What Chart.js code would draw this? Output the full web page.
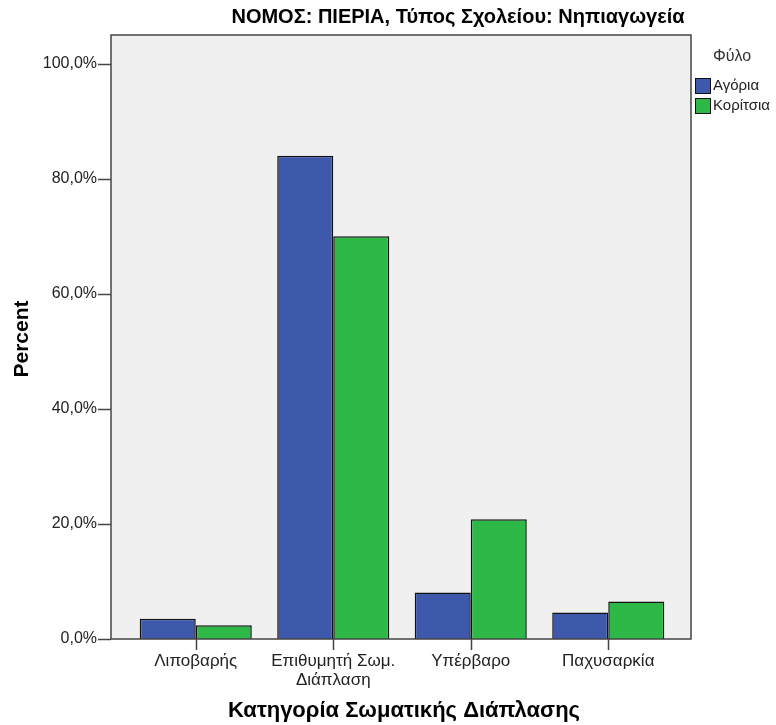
<!DOCTYPE html>
<html>
<head>
<meta charset="utf-8">
<script src="https://cdn.jsdelivr.net/npm/chart.js@4.4.1/dist/chart.umd.min.js"></script>
<style>
  html, body { margin: 0; padding: 0; background: #fff; }
  #wrap { width: 776px; height: 725px; }
</style>
</head>
<body>
<div id="wrap"><canvas id="myChart" width="776" height="725"></canvas></div>
<script>
// Κατηγορίες και ποσοστά (διαβασμένα από το γράφημα)
const categories = ['Λιποβαρής', ['Επιθυμητή Σωμ.', 'Διάπλαση'], 'Υπέρβαρο', 'Παχυσαρκία'];
const seriesNames = ['Αγόρια', 'Κορίτσια'];
const boysPct = [3.5, 84.0, 8.1, 4.6];
const girlsPct = [2.4, 70.0, 20.8, 6.5];
const seriesColors = ['#3e58ac', '#2eb848'];

const chartTitle = 'ΝΟΜΟΣ: ΠΙΕΡΙΑ, Τύπος Σχολείου: Νηπιαγωγεία';
const xTitle = 'Κατηγορία Σωματικής Διάπλασης';
const yTitle = 'Percent';
const legendTitle = 'Φύλο';

const FONT = '"Liberation Sans", Arial, sans-serif';
const FRAME = { left: 111, right: 691 };

const fmtPct = v => v.toFixed(1).replace('.', ',') + '%';

// Πλαίσιο, γραμμές υποδιαίρεσης, τίτλοι και υπόμνημα
const spssFrame = {
    id: 'spssFrame',
    beforeDatasetsDraw(chart) {
        const { ctx, chartArea } = chart;
        ctx.save();
        ctx.fillStyle = '#f0f0f0';
        ctx.fillRect(FRAME.left, chartArea.top, FRAME.right - FRAME.left, chartArea.bottom - chartArea.top);
        ctx.restore();
    },
    afterDatasetsDraw(chart) {
        const { ctx, chartArea, scales } = chart;
        ctx.save();
        ctx.strokeStyle = '#444';
        ctx.lineWidth = 1.5;
        ctx.strokeRect(FRAME.left, chartArea.top, FRAME.right - FRAME.left, chartArea.bottom - chartArea.top);

        // y ticks
        scales.y.ticks.forEach(t => {
            const y = Math.round(scales.y.getPixelForValue(t.value)) + 0.5;
            ctx.beginPath();
            ctx.moveTo(98, y);
            ctx.lineTo(FRAME.left, y);
            ctx.stroke();
        });
        // x ticks
        categories.forEach((c, i) => {
            const x = Math.round(scales.x.getPixelForValue(i)) + 0.5;
            ctx.beginPath();
            ctx.moveTo(x, chartArea.bottom);
            ctx.lineTo(x, chartArea.bottom + 11);
            ctx.stroke();
        });

        // τίτλος
        ctx.fillStyle = '#000';
        ctx.textAlign = 'center';
        ctx.textBaseline = 'middle';
        ctx.font = 'bold 20px ' + FONT;
        ctx.fillText(chartTitle, 458, 17);

        // τίτλος άξονα x
        ctx.font = 'bold 22px ' + FONT;
        ctx.fillText(xTitle, 404, 711);

        // τίτλος άξονα y
        ctx.font = 'bold 21px ' + FONT;
        ctx.save();
        ctx.translate(22, 339);
        ctx.rotate(-Math.PI / 2);
        ctx.fillText(yTitle, 0, 0);
        ctx.restore();

        // υπόμνημα
        ctx.font = '16px ' + FONT;
        ctx.fillStyle = '#333';
        ctx.fillText(legendTitle, 732, 57);
        ctx.font = '15px ' + FONT;
        ctx.textAlign = 'left';
        chart.data.datasets.forEach((ds, i) => {
            const y = 78 + i * 20;
            ctx.fillStyle = ds.backgroundColor;
            ctx.fillRect(695, y, 15, 15);
            ctx.strokeStyle = '#111';
            ctx.lineWidth = 1;
            ctx.strokeRect(695.5, y + 0.5, 15, 15);
            ctx.fillStyle = '#222';
            ctx.fillText(ds.label, 713, y + 8);
        });
        ctx.restore();
    }
};

const ctx = document.getElementById('myChart').getContext('2d');
new Chart(ctx, {
    type: 'bar',
    data: {
        labels: categories,
        datasets: [
            {
                label: seriesNames[0],
                data: boysPct,
                backgroundColor: seriesColors[0],
                borderColor: '#111',
                borderWidth: 1.5
            },
            {
                label: seriesNames[1],
                data: girlsPct,
                backgroundColor: seriesColors[1],
                borderColor: '#111',
                borderWidth: 1.5
            }
        ]
    },
    options: {
        responsive: false,
        animation: false,
        layout: { autoPadding: false, padding: { top: 35, right: 99, left: 0, bottom: 0 } },
        plugins: {
            legend: { display: false },
            title: { display: false },
            tooltip: { enabled: false }
        },
        datasets: {
            bar: { categoryPercentage: 0.815, barPercentage: 1.0 }
        },
        scales: {
            x: {
                grid: { display: false, drawTicks: false },
                border: { display: false },
                ticks: {
                    padding: 13,
                    color: '#222',
                    font: { family: FONT, size: 17, lineHeight: 1.1 },
                    maxRotation: 0,
                    autoSkip: false
                },
                afterFit(scale) {
                    scale.height = 86;
                    scale.paddingLeft = 0;
                    scale.paddingRight = 0;
                }
            },
            y: {
                min: 0,
                max: 105,
                grid: { display: false, drawTicks: false },
                border: { display: false },
                ticks: {
                    stepSize: 20,
                    includeBounds: false,
                    padding: 30,
                    color: '#222',
                    font: { family: FONT, size: 16 },
                    callback: v => fmtPct(v)
                },
                afterFit(scale) {
                    // το padding των ετικετών μετράει αλλιώς και στο πάνω περιθώριο
                    scale.width = 127;
                    scale.paddingTop = 0;
                    scale.paddingBottom = 0;
                }
            }
        }
    },
    plugins: [spssFrame]
});
</script>
</body>
</html>
